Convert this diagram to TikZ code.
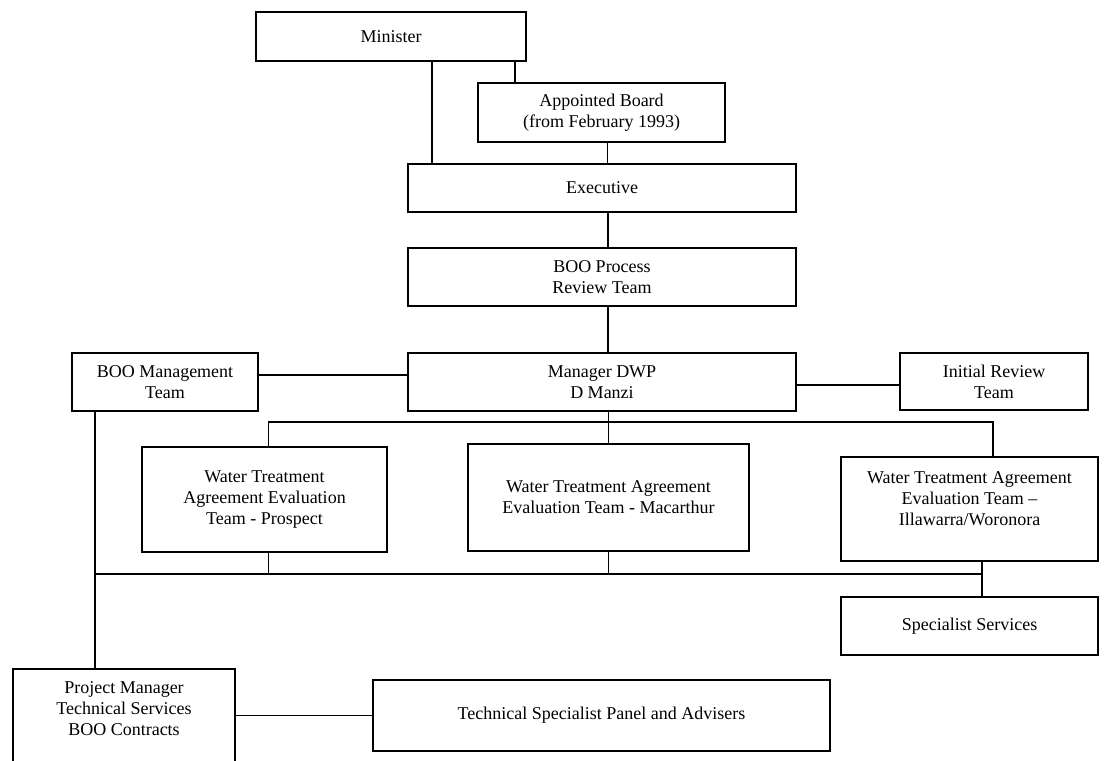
\documentclass[tikz,border=0pt]{standalone}
\usepackage{fontspec}
\setmainfont{Liberation Serif}
\usepackage{tikz}

\begin{document}
\begin{tikzpicture}[x=0.5pt, y=-0.5pt,
        orgbox/.style={draw, line width=1.1pt, align=center, inner sep=0pt, font=\fontsize{9}{10.5}\selectfont},
        link/.style={line width=0.9pt}]
        \useasboundingbox (0,0) rectangle (1106,760);
        \clip (0,0) rectangle (1106,760);

        \node[orgbox, minimum width=135pt, minimum height=24.5pt] (Minister) at (391,36.5) {Minister};
        \node[orgbox, minimum width=123.5pt, minimum height=29.5pt] (Board) at (601.5,112.5) {Appointed Board\\(from February 1993)};
        \node[orgbox, minimum width=194pt, minimum height=24pt] (Executive) at (602,188) {Executive};
        \node[orgbox, minimum width=194pt, minimum height=29pt] (ProcessTeam) at (602,277) {BOO Process\\Review Team};
        \node[orgbox, minimum width=194pt, minimum height=29pt] (Manager) at (602,382) {Manager DWP\\D Manzi};
        \node[orgbox, minimum width=93pt, minimum height=29pt] (MgmtTeam) at (165,382) {BOO Management\\Team};
        \node[orgbox, minimum width=94pt, minimum height=28.5pt] (ReviewTeam) at (994,381.5) {Initial Review\\Team};
        \node[orgbox, minimum width=122.5pt, minimum height=52.5pt] (Prospect) at (264.5,499.5) {Water Treatment\\Agreement Evaluation\\Team - Prospect};
        \node[orgbox, minimum width=140.5pt, minimum height=53.5pt] (Macarthur) at (608.5,497.5) {Water Treatment Agreement\\Evaluation Team - Macarthur};
        \node[orgbox, minimum width=128.5pt, minimum height=52pt] (Illawarra) at (969.5,509) {Water Treatment Agreement\\Evaluation Team --\\Illawarra/Woronora\\\mbox{}};
        \node[orgbox, minimum width=128.5pt, minimum height=29pt] (Specialist) at (969.5,626) {Specialist Services};
        \node[orgbox, minimum width=111pt, minimum height=50.5pt] (ProjectMgr) at (124,719.5) {Project Manager\\Technical Services\\BOO Contracts\\\mbox{}};
        \node[orgbox, minimum width=228.5pt, minimum height=35.5pt] (Panel) at (601.5,715.5) {Technical Specialist Panel and Advisers};

        \coordinate (TopBus) at (993,422);
        \coordinate (LowLeft) at (95,574);
        \coordinate (LowRight) at (982,574);

        \draw[link] ([xshift=20.5pt]Minister.south) -- ([xshift=20.5pt]Minister.south |- Executive.north);
        \draw[link] ([xshift=62pt]Minister.south) -- ([xshift=62pt]Minister.south |- Board.north);
        \draw[link] ([xshift=3pt]Board.south) -- ([xshift=3pt]Board.south |- Executive.north);
        \draw[link] ([xshift=3pt]Executive.south) -- ([xshift=3pt]Executive.south |- ProcessTeam.north);
        \draw[link] ([xshift=3pt]ProcessTeam.south) -- ([xshift=3pt]ProcessTeam.south |- Manager.north);
        \draw[link] ([yshift=3.5pt]MgmtTeam.east) -- ([yshift=3.5pt]MgmtTeam.east -| Manager.west);
        \draw[link] ([yshift=-1.5pt]Manager.east) -- ([yshift=-1.5pt]Manager.east -| ReviewTeam.west);

        \draw[link] (Manager.south -| Macarthur.north) -- (Macarthur.north);
        \draw[link] ([xshift=2pt]Prospect.north) |- (TopBus) -- (TopBus |- Illawarra.north);

        \draw[link] (MgmtTeam.south -| LowLeft) -- (ProjectMgr.north -| LowLeft);
        \draw[link] (LowLeft) -- (LowRight);
        \draw[link] ([xshift=2pt]Prospect.south) -- ([xshift=2pt]Prospect.south |- LowLeft);
        \draw[link] (Macarthur.south) -- (Macarthur.south |- LowLeft);
        \draw[link] (Illawarra.south -| LowRight) -- (Specialist.north -| LowRight);

        \draw[link] (Panel.west -| ProjectMgr.east) -- (Panel.west);
\end{tikzpicture}
\end{document}
